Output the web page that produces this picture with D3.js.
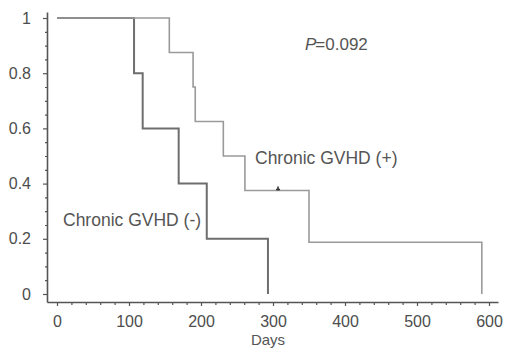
<!DOCTYPE html>
<html>
<head>
<meta charset="utf-8">
<script src="https://cdn.jsdelivr.net/npm/d3@7"></script>
<style>
  body { margin: 0; background: #fff; }
  svg { display: block; font-family: "Liberation Sans", Arial, sans-serif; }
</style>
</head>
<body>
<div class="graph-container"></div>
<script>
// survival curves (days, proportion surviving)
const negDays = [0, 107, 119, 169, 208, 293];
const negSurv = [1, 0.8, 0.6, 0.4, 0.2, 0];
const posDays = [0, 156, 189, 192, 231, 261, 350, 590];
const posSurv = [1, 0.875, 0.75, 0.625, 0.5, 0.375, 0.1875, 0];
const censorDays = [307];
const censorSurv = [0.375];
const xTicks = [0, 100, 200, 300, 400, 500, 600];
const yTicks = [0, 0.2, 0.4, 0.6, 0.8, 1];
const yTickLabels = ['0', '0.2', '0.4', '0.6', '0.8', '1'];

const [width, height] = [505, 349];
const svg = d3.select('div.graph-container')
    .append('svg')
    .attr('width', width)
    .attr('height', height);

const x = d3.scaleLinear().domain([0, 600]).range([57, 489]);
const y = d3.scaleLinear().domain([0, 1]).range([294, 18]);
const axisX = 47, axisY = 302;

// axis scales that span the full drawn axis lines
const xAxisScale = x.copy().domain([x.invert(axisX), x.invert(498)]).range([axisX, 498]);
const yAxisScale = y.copy().domain([y.invert(axisY), y.invert(12)]).range([axisY, 12]);

const axisColor = '#555';

// minor ticks
const xMinor = d3.range(0, 601, 20).filter(d => d % 100 !== 0);
const yMinor = d3.range(0, 1.0001, 0.05).filter(d => Math.abs(d * 5 - Math.round(d * 5)) > 1e-6);

const gx = svg.append('g').attr('transform', `translate(0,${axisY})`)
    .call(d3.axisBottom(xAxisScale).tickValues(xTicks).tickSize(4).tickSizeOuter(0).tickPadding(7));
svg.append('g').attr('transform', `translate(0,${axisY})`)
    .call(d3.axisBottom(xAxisScale).tickValues(xMinor).tickSize(3).tickSizeOuter(0).tickFormat(''))
    .select('.domain').remove();

const gy = svg.append('g').attr('transform', `translate(${axisX},0)`)
    .call(d3.axisLeft(yAxisScale).tickValues(yTicks).tickSize(4).tickSizeOuter(0).tickPadding(12)
        .tickFormat((d, i) => yTickLabels[i]));
svg.append('g').attr('transform', `translate(${axisX},0)`)
    .call(d3.axisLeft(yAxisScale).tickValues(yMinor).tickSize(2).tickSizeOuter(0).tickFormat(''))
    .select('.domain').remove();

svg.selectAll('.domain').attr('stroke', axisColor).attr('stroke-width', 1.6);
svg.selectAll('.tick line').attr('stroke', axisColor).attr('stroke-width', 1.2);
svg.selectAll('.tick text').attr('fill', '#4d4d4d').style('font-size', '16px');
gx.selectAll('.tick text').attr('dy', '0.85em');

// step curves
const line = d3.line().x(d => x(d[0])).y(d => y(d[1])).curve(d3.curveStepAfter);

svg.append('path')
    .datum(negDays.map((d, i) => [d, negSurv[i]]))
    .attr('d', line)
    .attr('fill', 'none')
    .attr('stroke', '#6e6e6e')
    .attr('stroke-width', 2);

svg.append('path')
    .datum(posDays.map((d, i) => [d, posSurv[i]]))
    .attr('d', line)
    .attr('fill', 'none')
    .attr('stroke', '#9a9a9a')
    .attr('stroke-width', 1.6);

// censor marks
svg.selectAll('path.censor')
    .data(censorDays.map((d, i) => [d, censorSurv[i]]))
    .enter()
    .append('path')
    .attr('class', 'censor')
    .attr('d', d => `M${x(d[0])},${y(d[1]) - 4}V${y(d[1])}M${x(d[0]) - 2},${y(d[1]) - 1}H${x(d[0]) + 2}`)
    .attr('stroke', '#333')
    .attr('stroke-width', 1.6);

// annotations
const txt = (tx, ty, s, size) => svg.append('text')
    .attr('x', tx).attr('y', ty)
    .attr('fill', '#555')
    .style('font-size', size + 'px')
    .text(s);

const p = svg.append('text').attr('x', 305).attr('y', 50)
    .attr('fill', '#555').style('font-size', '17px');
p.append('tspan').style('font-style', 'italic').text('P');
p.append('tspan').attr('dx', -1).text('=0.092');

txt(255, 164, 'Chronic GVHD (+)', 17.5);
txt(63, 226, 'Chronic GVHD (-)', 17.5);

svg.append('text')
    .attr('x', 268).attr('y', 345)
    .attr('text-anchor', 'middle')
    .attr('fill', '#555')
    .style('font-size', '15px')
    .text('Days');
</script>
</body>
</html>
